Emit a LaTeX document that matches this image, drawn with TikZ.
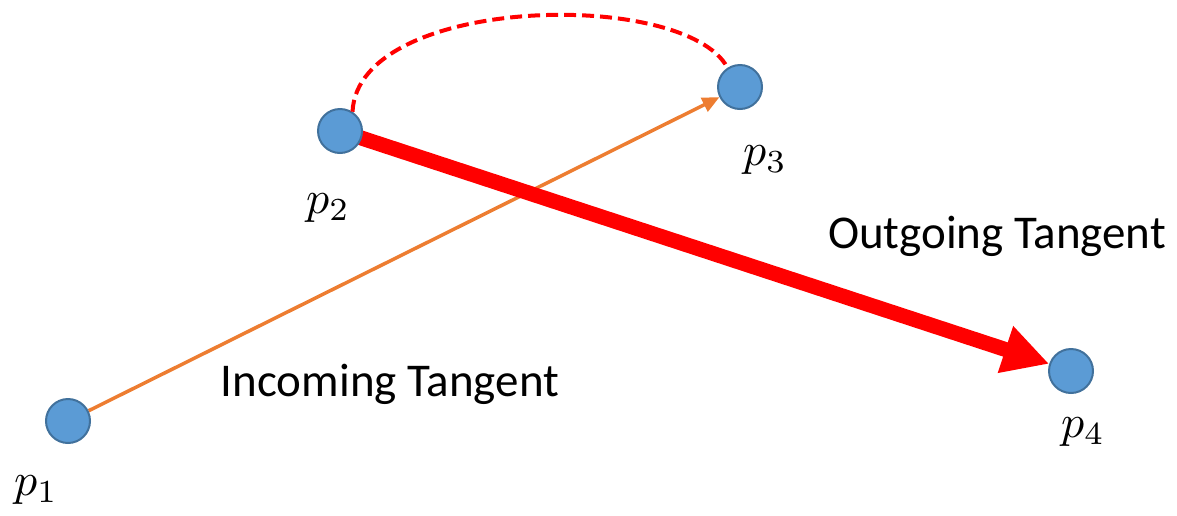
\documentclass[tikz,border=0pt]{standalone}
\usepackage{graphicx}
\usepackage{fontspec}
\setmainfont{Carlito}
\usetikzlibrary{arrows.meta,backgrounds}
\definecolor{ptfill}{HTML}{5B9BD5}
\definecolor{ptdraw}{HTML}{41719C}
\definecolor{incol}{HTML}{ED7D31}
\definecolor{outcol}{HTML}{FF0000}
\newcommand{\bigp}[1]{\scalebox{4.6}{$p_{#1}$}}
\begin{document}
\begin{tikzpicture}[x=1pt,y=-1pt,
  pt/.style={circle,fill=ptfill,draw=ptdraw,line width=2pt,minimum size=44pt,inner sep=0pt},
  plabel/.style={inner sep=0pt},
  txt/.style={font=\fontsize{47}{50}\selectfont},
  incoming/.style={draw=incol,line width=3.5pt,-{Triangle[length=17pt,width=15pt]}},
  outgoing/.style={draw=outcol,line width=15pt,-{Triangle[length=46pt,width=46pt]}},
  arcline/.style={draw=outcol,line width=4pt,dash pattern=on 12pt off 6pt}]
\useasboundingbox (0,0) rectangle (1177,515);
\node[pt] (p1) at (68,421) {};
\node[pt] (p2) at (340,131) {};
\node[pt] (p3) at (740,87) {};
\node[pt] (p4) at (1071,371) {};
\node[plabel] (l1) at (36,490) {\bigp{1}};
\node[plabel] (l2) at (328,208) {\bigp{2}};
\node[plabel] (l3) at (765,160) {\bigp{3}};
\node[plabel] (l4) at (1083,432) {\bigp{4}};
\node[txt] (tout) at (997,236) {Outgoing Tangent};
\node[txt] (tin) at (390,384) {Incoming Tangent};
\begin{scope}[on background layer]
\draw[incoming] (p1) -- (p3);
\draw[outgoing] (p2.center) -- (p4);
\end{scope}
\draw[arcline] (p2.57) .. controls (358,-5) and (685,-12) .. (p3.123);
\end{tikzpicture}
\end{document}
